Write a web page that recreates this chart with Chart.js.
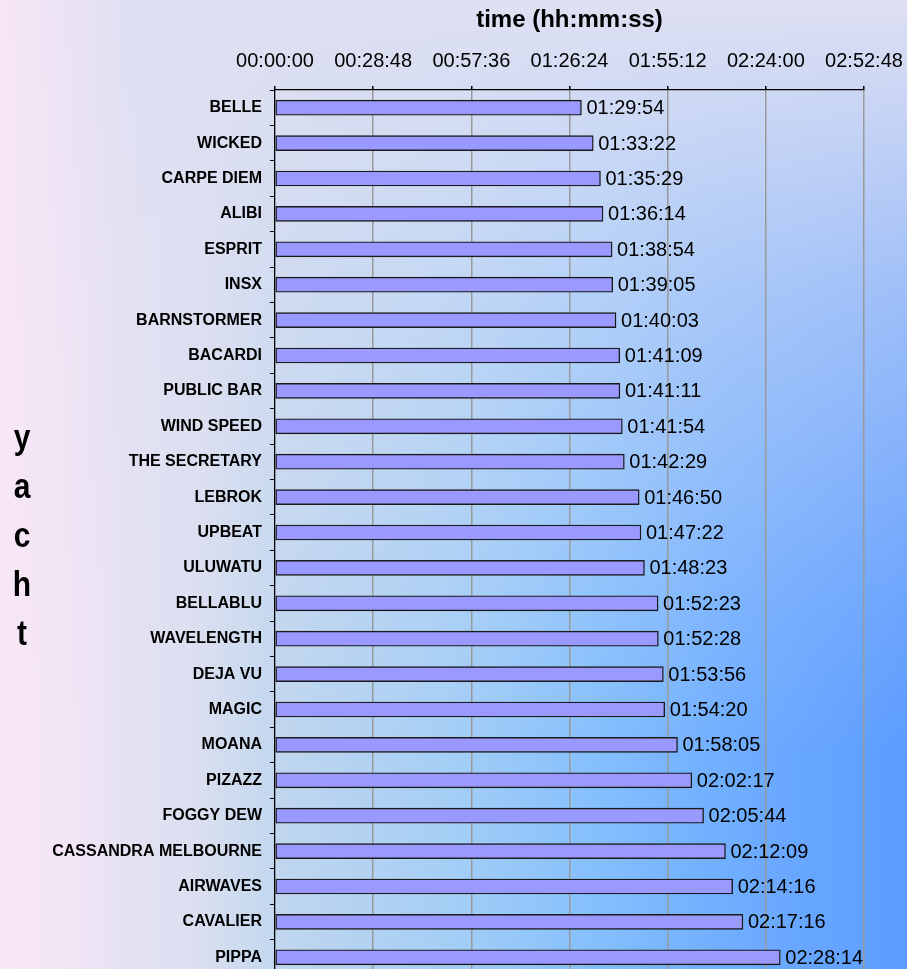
<!DOCTYPE html>
<html lang="en">
<head>
  <meta charset="UTF-8">
  <title>Yacht finish times</title>
  <script src="https://cdn.jsdelivr.net/npm/chart.js"></script>
  <style>
    html, body { margin: 0; padding: 0; overflow: hidden; }
    #wrap {
      position: relative;
      width: 907px;
      height: 990px;
      background:
        linear-gradient(to right, rgba(247,230,246,1) 0%, rgba(247,230,246,0) 14%),
        linear-gradient(to bottom, rgba(223,224,242,1) 0%, rgba(223,224,242,0.5) 30%, rgba(223,224,242,0.12) 62%, rgba(223,224,242,0) 76%),
        linear-gradient(to right, #f6e6f6 0%, #dadff0 22%, #c0d6ee 31%, #a4cef6 50%, #86c0fd 65%, #70aeff 80%, #5c9cff 100%);
    }
  </style>
</head>
<body>
  <div id="wrap">
    <canvas id="race-chart" width="907" height="990"></canvas>
  </div>

  <script>
    const yachts = [
      'BELLE', 'WICKED', 'CARPE DIEM', 'ALIBI', 'ESPRIT', 'INSX', 'BARNSTORMER',
      'BACARDI', 'PUBLIC BAR', 'WIND SPEED', 'THE SECRETARY', 'LEBROK', 'UPBEAT',
      'ULUWATU', 'BELLABLU', 'WAVELENGTH', 'DEJA VU', 'MAGIC', 'MOANA', 'PIZAZZ',
      'FOGGY DEW', 'CASSANDRA MELBOURNE', 'AIRWAVES', 'CAVALIER', 'PIPPA'
    ];
    const finishTimes = [
      '01:29:54', '01:33:22', '01:35:29', '01:36:14', '01:38:54', '01:39:05', '01:40:03',
      '01:41:09', '01:41:11', '01:41:54', '01:42:29', '01:46:50', '01:47:22',
      '01:48:23', '01:52:23', '01:52:28', '01:53:56', '01:54:20', '01:58:05', '02:02:17',
      '02:05:44', '02:12:09', '02:14:16', '02:17:16', '02:28:14'
    ];
    // tick labels: 00:00:00 .. 02:52:48 every 00:28:48
    const tickStep = '00:28:48';
    const axisMax = '02:52:48';

    function toSeconds(t) {
      const [h, m, s] = t.split(':').map(Number);
      return h * 3600 + m * 60 + s;
    }

    function toHms(sec) {
      const pad = n => String(n).padStart(2, '0');
      const h = Math.floor(sec / 3600);
      const m = Math.floor((sec % 3600) / 60);
      const s = Math.round(sec % 60);
      return pad(h) + ':' + pad(m) + ':' + pad(s);
    }

    const FONT = '"Liberation Sans", Arial, sans-serif';

    // etichette con il tempo alla fine di ogni barra
    const valueLabels = {
      id: 'valueLabels',
      afterDatasetsDraw(chart) {
        const ctx = chart.ctx;
        const meta = chart.getDatasetMeta(0);
        ctx.save();
        ctx.font = '20px ' + FONT;
        ctx.fillStyle = '#000';
        ctx.textAlign = 'left';
        ctx.textBaseline = 'middle';
        meta.data.forEach((bar, i) => {
          ctx.fillText(finishTimes[i], bar.x + 5, bar.y + 1);
        });
        ctx.restore();
      }
    };

    // titolo asse y scritto lettera per lettera
    const yachtTitle = {
      id: 'yachtTitle',
      afterDraw(chart) {
        const ctx = chart.ctx;
        const area = chart.chartArea;
        const mid = (area.top + area.bottom) / 2;
        const letters = ['y', 'a', 'c', 'h', 't'];
        ctx.save();
        ctx.font = 'bold 30px ' + FONT;
        ctx.fillStyle = '#000';
        ctx.textAlign = 'center';
        ctx.textBaseline = 'alphabetic';
        letters.forEach((l, i) => {
          ctx.save();
          ctx.translate(22, mid + 14 + (i - 2) * 49);
          ctx.scale(1, 1.15);
          ctx.fillText(l, 0, 0);
          ctx.restore();
        });
        ctx.restore();
      }
    };

    const ctx = document.getElementById('race-chart').getContext('2d');

    new Chart(ctx, {
      type: 'bar',
      data: {
        labels: yachts,
        datasets: [{
          data: finishTimes.map(toSeconds),
          backgroundColor: '#9999ff',
          borderColor: '#1a1a1a',
          borderWidth: 1.4,
          borderSkipped: false,
          barThickness: 15
        }]
      },
      options: {
        indexAxis: 'y',
        responsive: false,
        animation: false,
        layout: { padding: { left: 0, right: 43, top: 0, bottom: 15 } },
        plugins: {
          legend: { display: false },
          tooltip: { enabled: false }
        },
        scales: {
          x: {
            position: 'top',
            min: 0,
            max: toSeconds(axisMax),
            afterFit: s => { s.height = 90; s.paddingLeft = 0; s.paddingRight = 0; },
            ticks: {
              stepSize: toSeconds(tickStep),
              callback: v => toHms(v),
              color: '#000',
              font: { family: FONT, size: 20 },
              padding: 13,
              maxRotation: 0,
              autoSkip: false
            },
            grid: {
              color: c => (c.tick && c.tick.value === 0) ? 'transparent' : '#9a9a9a',
              lineWidth: 1.5,
              tickColor: '#000',
              tickLength: 4
            },
            border: { color: '#000', width: 1.3 },
            title: {
              display: true,
              text: 'time (hh:mm:ss)',
              color: '#000',
              font: { family: FONT, size: 24, weight: 'bold' },
              padding: { top: 6, bottom: 0 }
            }
          },
          y: {
            afterFit: s => { s.width = 275; s.paddingTop = 0; s.paddingBottom = 0; },
            ticks: {
              color: '#000',
              font: { family: FONT, size: 16, weight: 'bold' },
              padding: 8,
              autoSkip: false
            },
            grid: {
              drawOnChartArea: false,
              tickColor: '#000',
              tickLength: 5,
              offset: true
            },
            border: { color: '#000', width: 1.3 }
          }
        }
      },
      plugins: [valueLabels, yachtTitle]
    });
  </script>
</body>
</html>
